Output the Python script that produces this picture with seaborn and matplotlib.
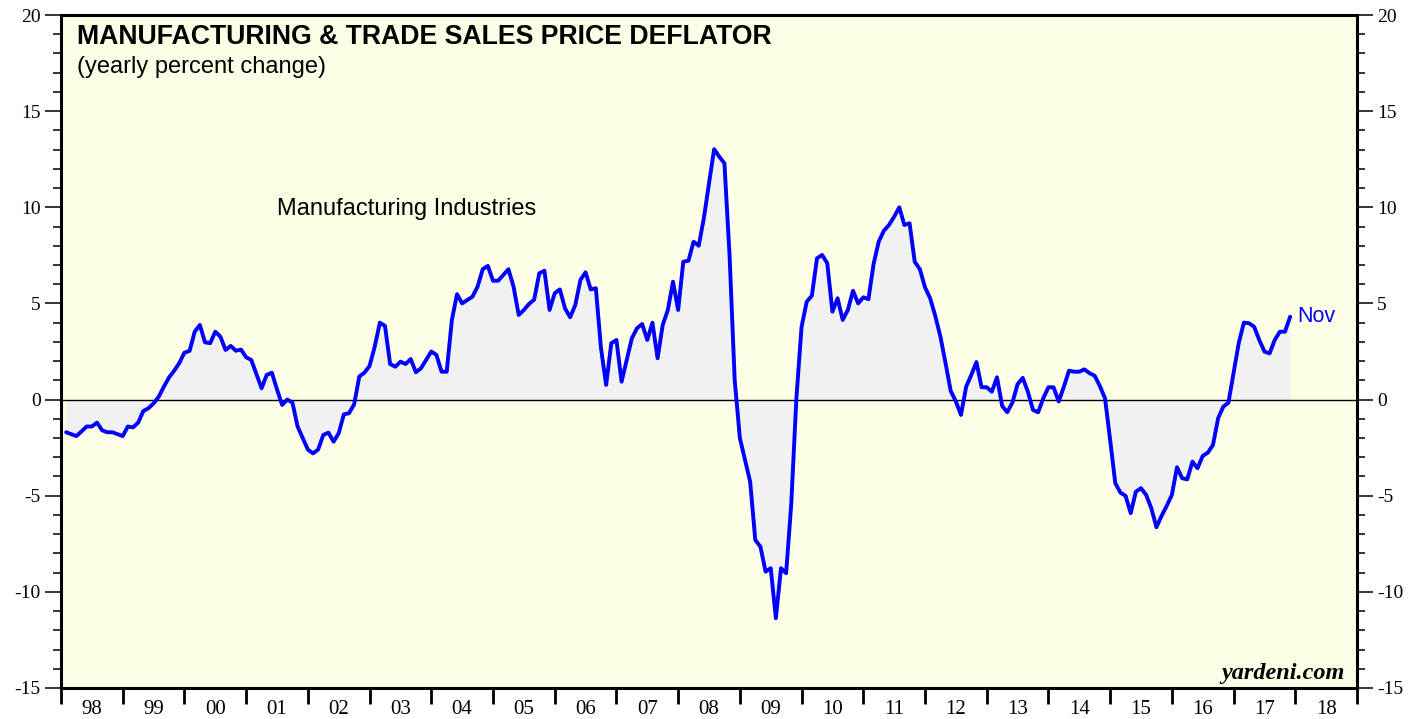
import numpy as np
import pandas as pd
import matplotlib
matplotlib.use("Agg")
import matplotlib.pyplot as plt
import seaborn as sns
from matplotlib.ticker import MultipleLocator, FixedLocator, FixedFormatter, NullFormatter

# Monthly yearly-percent-change of the manufacturing sales price deflator, Jan 1998 - Nov 2017
start_year = 1998
deflator_1998_2002 = [
    -1.7, -1.8, -1.9, -1.65, -1.4, -1.4, -1.2, -1.6, -1.7, -1.7, -1.8, -1.9,
    -1.4, -1.45, -1.2, -0.6, -0.45, -0.2, 0.15, 0.67, 1.15, 1.5, 1.9, 2.44,
    2.53, 3.53, 3.88, 2.98, 2.93, 3.53, 3.27, 2.58, 2.79, 2.54, 2.6, 2.2,
    2.06, 1.33, 0.59, 1.28, 1.4, 0.53, -0.28, 0.0, -0.16, -1.4, -2.0, -2.6,
    -2.8, -2.6, -1.84, -1.72, -2.19, -1.75, -0.77, -0.71, -0.25, 1.2, 1.4, 1.75,
]
deflator_2003_2007 = [
    2.75, 4.0, 3.83, 1.85, 1.71, 1.97, 1.85, 2.11, 1.42, 1.63, 2.06, 2.5,
    2.32, 1.45, 1.45, 4.14, 5.48, 5.0, 5.18, 5.35, 5.87, 6.78, 6.95, 6.18,
    6.18, 6.48, 6.78, 5.87, 4.4, 4.66, 4.97, 5.2, 6.57, 6.7, 4.66, 5.53,
    5.73, 4.75, 4.28, 4.92, 6.22, 6.62, 5.73, 5.79, 2.67, 0.76, 2.93, 3.1,
    0.93, 2.06, 3.19, 3.71, 3.93, 3.1, 4.0, 2.15, 3.88, 4.66, 6.13, 4.66,
]
deflator_2008_2012 = [
    7.17, 7.22, 8.21, 8.0, 9.43, 11.25, 13.02, 12.63, 12.29, 7.5, 1.0, -2.0,
    -3.14, -4.27, -7.3, -7.65, -8.95, -8.77, -11.37, -8.77, -9.03, -5.4, 0.1, 3.79,
    5.09, 5.4, 7.35, 7.52, 7.09, 4.57, 5.27, 4.14, 4.66, 5.66, 5.0, 5.32,
    5.22, 7.05, 8.21, 8.78, 9.08, 9.51, 10.0, 9.08, 9.17, 7.17, 6.78, 5.84,
    5.27, 4.35, 3.27, 1.89, 0.45, -0.1, -0.8, 0.67, 1.28, 1.95, 0.64, 0.64,
]
deflator_2013_2017 = [
    0.41, 1.16, -0.33, -0.66, -0.15, 0.8, 1.13, 0.41, -0.54, -0.66, 0.07, 0.64,
    0.64, -0.1, 0.67, 1.5, 1.45, 1.45, 1.57, 1.37, 1.24, 0.7, 0.07, -2.1,
    -4.35, -4.84, -5.01, -5.91, -4.79, -4.61, -4.96, -5.65, -6.64, -6.05, -5.53, -4.96,
    -3.52, -4.09, -4.15, -3.23, -3.57, -2.93, -2.76, -2.36, -0.97, -0.37, -0.16, 1.37,
    2.93, 4.0, 3.97, 3.79, 3.1, 2.5, 2.4, 3.1, 3.53, 3.53, 4.31,
]
year_labels = ["98", "99", "00", "01", "02", "03", "04", "05", "06", "07",
               "08", "09", "10", "11", "12", "13", "14", "15", "16", "17", "18"]
y_ticks = [-15, -10, -5, 0, 5, 10, 15, 20]
last_month_label = "Nov"

deflator = deflator_1998_2002 + deflator_2003_2007 + deflator_2008_2012 + deflator_2013_2017
months = np.arange(len(deflator))
df = pd.DataFrame({"date": start_year + (months + 1) / 12.0, "pct": deflator})

sns.set_theme(style="white")
plt.rcParams["font.family"] = ["Liberation Sans", "DejaVu Sans"]
plt.rcParams["axes.unicode_minus"] = False
plt.rcParams["text.color"] = "black"
plt.rcParams["xtick.color"] = "black"
plt.rcParams["ytick.color"] = "black"

W, H = 1427, 719
fig = plt.figure(figsize=(W / 100, H / 100), dpi=100)
fig.patch.set_facecolor("white")
ax = fig.add_axes([61 / W, 1 - 688 / H, (1357 - 61) / W, (688 - 15) / H])
ax.set_facecolor("#FEFEE6")

ax.fill_between(df["date"], df["pct"], 0, color="#F1F1F1", lw=0, zorder=1)
ax.axhline(0, color="black", lw=1.0, zorder=2)
sns.lineplot(data=df, x="date", y="pct", ax=ax, color="#0000FF", lw=2.8,
             zorder=3, legend=False)

n_years = len(year_labels)
ax.set_xlim(start_year, start_year + n_years)
ax.set_ylim(min(y_ticks), max(y_ticks))
ax.set_xlabel("")
ax.set_ylabel("")

# spines
for s in ax.spines.values():
    s.set_visible(True)
    s.set_color("black")
    s.set_linewidth(2.2)

# y axis: labels on both sides, minor ticks every unit
ax.yaxis.set_major_locator(FixedLocator(y_ticks))
ax.yaxis.set_minor_locator(MultipleLocator(1))
ax.tick_params(axis="y", which="both", left=True, right=True,
               labelleft=True, labelright=True, direction="out", color="black",
               labelcolor="black")
ax.tick_params(axis="y", which="major", length=11.5, width=1.1, pad=3,
               labelsize=14, labelfontfamily="Liberation Serif")
ax.tick_params(axis="y", which="minor", length=6, width=1.1)

# x axis: ticks at year boundaries, labels centred within each year
ax.xaxis.set_major_locator(FixedLocator(np.arange(start_year, start_year + n_years + 1)))
ax.xaxis.set_major_formatter(NullFormatter())
ax.xaxis.set_minor_locator(FixedLocator(np.arange(n_years) + start_year + 0.5))
ax.xaxis.set_minor_formatter(FixedFormatter(year_labels))
ax.tick_params(axis="x", which="major", bottom=True, direction="out",
               length=11.5, width=2.0, color="black")
ax.tick_params(axis="x", which="minor", bottom=True, length=0, pad=8.5,
               labelsize=15, labelfontfamily="Liberation Serif", labelcolor="black")

fig.text(77 / W, 1 - 37 / H, "MANUFACTURING & TRADE SALES PRICE DEFLATOR",
         fontsize=19.2, fontweight="bold", ha="left", va="center", color="black")
fig.text(77 / W, 1 - 67 / H, "(yearly percent change)",
         fontsize=17, ha="left", va="center", color="black")
fig.text(277 / W, 1 - 209 / H, "Manufacturing Industries",
         fontsize=17, ha="left", va="center", color="black")
fig.text(1345 / W, 1 - 674 / H, "yardeni.com", fontsize=17.5,
         fontweight="bold", fontstyle="italic", family="Liberation Serif",
         ha="right", va="center", color="black")
ax.annotate(last_month_label, xy=(df["date"].iloc[-1], df["pct"].iloc[-1]),
            xytext=(5, 0), textcoords="offset points", color="#0000FF",
            fontsize=15.5, ha="left", va="center")

fig.savefig("out.png", dpi=100, facecolor="white")
